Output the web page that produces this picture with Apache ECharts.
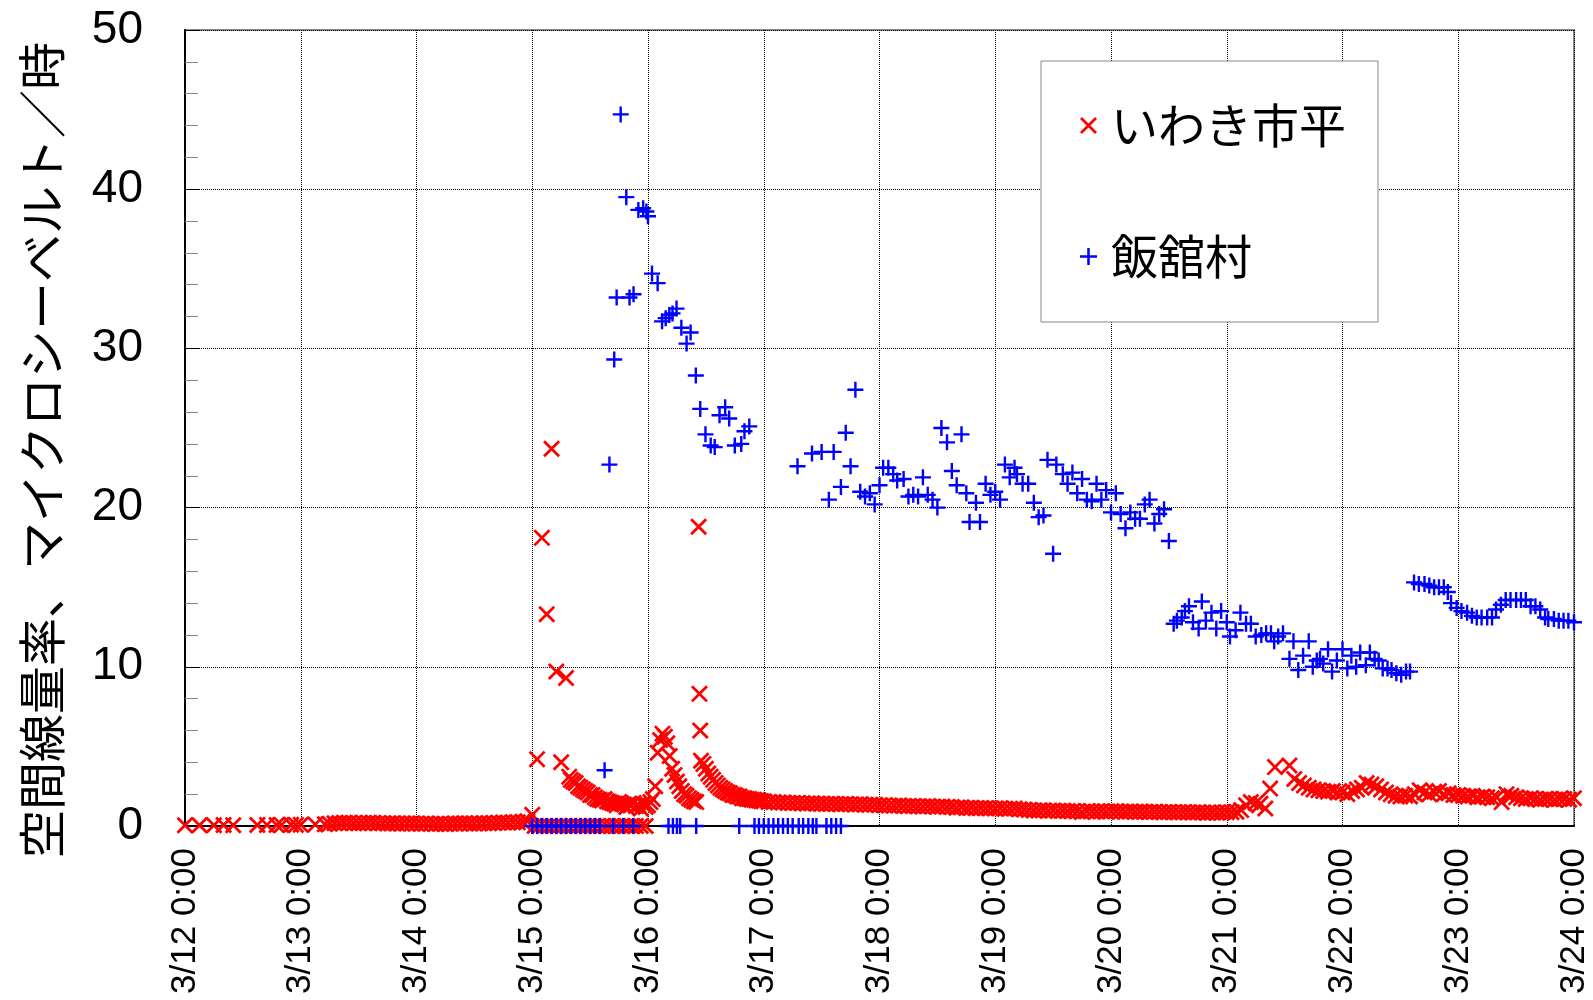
<!DOCTYPE html>
<html>
<head>
<meta charset="utf-8">
<script src="https://cdn.jsdelivr.net/npm/echarts@6/dist/echarts.min.js"></script>
<style>
html, body { margin: 0; padding: 0; background: #fff; }
#chart { width: 1593px; height: 1000px; }
</style>
</head>
<body>
<div id="chart"></div>
<script>
// Air dose rate (µSv/h), 2011-03-12 0:00 to 2011-03-24 0:00
const seriesNames = ['いわき市平', '飯舘村'];
const yTitle = '空間線量率、マイクロシーベルト／時';
const dayLabels = ['3/12 0:00', '3/13 0:00', '3/14 0:00', '3/15 0:00', '3/16 0:00', '3/17 0:00',
  '3/18 0:00', '3/19 0:00', '3/20 0:00', '3/21 0:00', '3/22 0:00', '3/23 0:00', '3/24 0:00'];

// いわき市平: hourly readings per day (index = hour), null = no reading
const iwaki_0312 = [0.05, null, null, 0.05, null, null, 0.05, null, 0.06, null, 0.05, null, null, null, null, 0.06, null, 0.07, null, 0.06, 0.07, null, 0.08, 0.07];
const iwaki_0313 = [0.08, null, null, 0.10, null, 0.11, 0.14, 0.17, 0.19, 0.21, 0.20, 0.18, 0.17, 0.19, 0.21, 0.20, 0.18, 0.17, 0.16, 0.17, 0.16, 0.15, 0.16, 0.15];
const iwaki_0314 = [0.15, 0.14, 0.15, 0.14, 0.13, 0.14, 0.13, 0.14, 0.15, 0.16, 0.17, 0.16, 0.15, 0.16, 0.17, 0.18, 0.19, 0.21, 0.22, 0.21, 0.23, 0.24, 0.26, 0.30];
const iwaki_0315 = [0.7, 4.2, 18.1, 13.3, 23.7, 9.7, 4.0, 9.3, 2.9, 2.7, 2.4, 2.2, 1.95, 1.8, 1.65, 1.7, 1.5, 1.4, 1.5, 1.35, 1.4, 1.45, 1.3, 1.4];
const iwaki_0316 = [1.3, 1.7, 4.6, 5.8, 5.2, 3.6, 2.8, 2.2, 1.9, 1.65, 1.5, 4.1, 3.6, 3.1, 2.7, 2.4, 2.2, 2.05, 1.95, 1.85, 1.75, 1.7, 1.65, 1.6];
const iwaki_0317 = [1.55, 1.5, 1.5, 1.48, 1.47, 1.45, 1.44, 1.45, 1.43, 1.42, 1.43, 1.4, 1.4, 1.38, 1.4, 1.38, 1.37, 1.38, 1.36, 1.35, 1.36, 1.34, 1.33, 1.34];
const iwaki_0318 = [1.3, 1.31, 1.28, 1.27, 1.28, 1.26, 1.25, 1.26, 1.24, 1.23, 1.24, 1.22, 1.21, 1.22, 1.2, 1.19, 1.15, 1.17, 1.13, 1.15, 1.12, 1.13, 1.11, 1.12];
const iwaki_0319 = [1.1, 1.12, 1.09, 1.08, 1.1, 1.05, 1.03, 1.0, 0.98, 0.97, 0.99, 0.96, 0.97, 0.95, 0.96, 0.94, 0.95, 0.93, 0.88, 0.92, 0.93, 0.91, 0.92, 0.9];
const iwaki_0320 = [0.92, 0.93, 0.91, 0.9, 0.91, 0.89, 0.9, 0.89, 0.88, 0.89, 0.88, 0.87, 0.88, 0.87, 0.86, 0.87, 0.86, 0.85, 0.86, 0.85, 0.84, 0.85, 0.84, 0.85];
const iwaki_0321 = [0.86, 0.87, 0.9, 1.0, 1.3, 1.5, 1.45, 1.4, 1.1, 2.35, 3.7, null, null, 3.8, 2.95, 2.7, 2.55, 2.4, 2.3, 2.25, 2.2, 2.15, 2.2, 2.1];
const iwaki_0322 = [2.1, 2.0, 2.2, 2.3, 2.4, 2.7, 2.6, 2.5, 2.3, 2.1, 2.0, 1.9, 1.85, 1.9, 1.85, 2.0, 2.25, 2.1, 2.0, 2.15, 2.2, 2.0, 2.05, 1.95];
const iwaki_0323 = [1.95, 1.9, 1.85, 1.9, 1.8, 1.85, 1.8, 1.75, 1.8, 1.5, 2.0, 1.9, 1.8, 1.75, 1.7, 1.75, 1.7, 1.65, 1.7, 1.7, 1.65, 1.7, 1.7, 1.65];
const iwaki_0324 = [1.75];
const iwakiDays = [iwaki_0312, iwaki_0313, iwaki_0314, iwaki_0315, iwaki_0316, iwaki_0317,
  iwaki_0318, iwaki_0319, iwaki_0320, iwaki_0321, iwaki_0322, iwaki_0323, iwaki_0324];

// いわき市平: readings between the hours (15th-16th)
const iwakiExtra = [
  ['3/15 0:30', 0], ['3/15 1:30', 0], ['3/15 2:30', 0], ['3/15 3:30', 0], ['3/15 4:30', 0], ['3/15 5:30', 0],
  ['3/15 6:30', 0], ['3/15 7:30', 0], ['3/15 8:30', 0], ['3/15 9:30', 0], ['3/15 10:30', 0], ['3/15 11:30', 0],
  ['3/15 12:30', 0], ['3/15 13:30', 0], ['3/15 14:30', 0], ['3/15 15:30', 0], ['3/15 16:30', 0], ['3/15 17:30', 0],
  ['3/15 18:30', 0], ['3/15 19:30', 0], ['3/15 20:30', 0], ['3/15 21:30', 0], ['3/15 22:30', 0], ['3/15 23:30', 0],
  ['3/15 7:40', 3.1], ['3/15 8:30', 2.8], ['3/15 9:30', 2.5], ['3/15 10:30', 2.3], ['3/15 11:30', 2.1],
  ['3/15 12:30', 1.95], ['3/15 13:30', 1.7], ['3/15 14:30', 1.6], ['3/15 15:30', 1.55], ['3/15 16:30', 1.45],
  ['3/15 17:30', 1.3], ['3/15 18:30', 1.4], ['3/15 19:30', 1.2], ['3/15 20:30', 1.3], ['3/15 21:30', 1.25],
  ['3/15 22:30', 1.1], ['3/15 23:30', 1.2],
  ['3/16 0:30', 1.5], ['3/16 1:30', 2.5], ['3/16 2:30', 5.4], ['3/16 3:30', 5.6], ['3/16 4:30', 4.4],
  ['3/16 5:30', 3.2], ['3/16 6:30', 2.5], ['3/16 7:30', 2.0], ['3/16 8:30', 1.75], ['3/16 9:30', 1.55],
  ['3/16 10:30', 18.8], ['3/16 10:40', 8.3], ['3/16 10:50', 6.0], ['3/16 11:30', 3.9], ['3/16 12:30', 3.3],
  ['3/16 13:30', 2.9], ['3/16 14:30', 2.55], ['3/16 15:30', 2.3], ['3/16 16:30', 2.1], ['3/16 17:30', 1.95],
  ['3/16 18:30', 1.85], ['3/16 19:30', 1.75], ['3/16 20:30', 1.7], ['3/16 21:30', 1.65], ['3/16 22:30', 1.6],
  ['3/16 23:30', 1.55]
];

// 飯舘村: timed readings
const iitateReadings = [
  ['3/15 0:00', 0], ['3/15 1:00', 0], ['3/15 2:00', 0], ['3/15 3:00', 0], ['3/15 4:00', 0], ['3/15 5:00', 0],
  ['3/15 6:00', 0], ['3/15 7:00', 0], ['3/15 8:00', 0], ['3/15 9:00', 0], ['3/15 10:00', 0], ['3/15 11:00', 0],
  ['3/15 12:00', 0], ['3/15 13:00', 0], ['3/15 14:00', 0], ['3/15 16:45', 0], ['3/15 18:50', 0], ['3/15 20:55', 0],
  ['3/15 15:00', 3.5], ['3/15 16:00', 22.7], ['3/15 17:00', 29.3], ['3/15 17:30', 33.2], ['3/15 18:20', 44.7],
  ['3/15 19:30', 39.5], ['3/15 20:10', 33.2], ['3/15 21:00', 33.4], ['3/15 22:00', 38.7], ['3/15 23:00', 38.8],
  ['3/15 23:40', 38.6], ['3/16 0:00', 38.3],
  ['3/16 0:50', 34.7], ['3/16 2:00', 34.1], ['3/16 2:55', 31.7], ['3/16 3:40', 31.9], ['3/16 4:25', 32.1],
  ['3/16 5:05', 32.2], ['3/16 5:55', 32.5], ['3/16 6:55', 31.3], ['3/16 8:00', 30.3], ['3/16 8:50', 31.0],
  ['3/16 9:55', 28.3], ['3/16 10:50', 26.2], ['3/16 11:55', 24.6], ['3/16 13:00', 23.9], ['3/16 13:50', 23.8],
  ['3/16 14:50', 25.8], ['3/16 16:00', 26.3], ['3/16 16:50', 25.6], ['3/16 18:00', 23.9], ['3/16 19:20', 24.0],
  ['3/16 20:00', 24.8], ['3/16 21:00', 25.1],
  ['3/16 4:15', 0], ['3/16 5:10', 0], ['3/16 6:00', 0], ['3/16 6:40', 0], ['3/16 10:00', 0], ['3/16 18:55', 0],
  ['3/16 22:05', 0], ['3/16 23:00', 0], ['3/17 0:00', 0], ['3/17 1:00', 0], ['3/17 2:00', 0], ['3/17 3:00', 0],
  ['3/17 4:00', 0], ['3/17 5:00', 0], ['3/17 6:00', 0], ['3/17 7:15', 0], ['3/17 8:10', 0], ['3/17 9:15', 0],
  ['3/17 10:10', 0], ['3/17 10:55', 0], ['3/17 13:00', 0], ['3/17 14:00', 0], ['3/17 15:00', 0], ['3/17 16:00', 0],
  ['3/17 7:00', 22.6], ['3/17 10:00', 23.4], ['3/17 12:00', 23.5], ['3/17 13:30', 20.5], ['3/17 14:30', 23.5],
  ['3/17 16:00', 21.3], ['3/17 17:00', 24.7], ['3/17 18:00', 22.6], ['3/17 19:00', 27.4], ['3/17 20:00', 21.0],
  ['3/17 21:00', 20.7], ['3/17 22:00', 20.9], ['3/17 23:00', 20.2],
  ['3/18 0:00', 21.4], ['3/18 0:45', 22.5], ['3/18 1:50', 22.5], ['3/18 2:50', 22.1], ['3/18 3:40', 21.7],
  ['3/18 5:00', 21.8], ['3/18 6:00', 20.7], ['3/18 7:00', 20.8], ['3/18 8:00', 20.7], ['3/18 9:00', 21.9],
  ['3/18 10:00', 20.8], ['3/18 11:00', 20.5], ['3/18 12:00', 20.0], ['3/18 12:50', 25.0], ['3/18 14:00', 24.1],
  ['3/18 15:00', 22.3], ['3/18 16:00', 21.4], ['3/18 17:00', 24.6], ['3/18 18:00', 20.9], ['3/18 18:40', 19.1],
  ['3/18 20:00', 20.3], ['3/18 20:50', 19.1], ['3/18 22:00', 21.5], ['3/18 23:00', 20.8],
  ['3/19 0:00', 21.0], ['3/19 1:00', 20.5], ['3/19 2:00', 22.7], ['3/19 3:00', 21.9], ['3/19 4:00', 22.5],
  ['3/19 4:30', 22.1], ['3/19 5:40', 21.5], ['3/19 6:50', 21.5], ['3/19 8:00', 20.3], ['3/19 9:00', 19.4],
  ['3/19 10:00', 19.5], ['3/19 10:50', 23.0], ['3/19 12:00', 17.1], ['3/19 12:40', 22.7], ['3/19 14:00', 22.1],
  ['3/19 15:00', 21.5], ['3/19 16:00', 22.2], ['3/19 17:00', 20.9], ['3/19 18:00', 21.8], ['3/19 19:00', 20.5],
  ['3/19 20:00', 20.4], ['3/19 21:00', 21.5], ['3/19 22:00', 20.5], ['3/19 23:00', 21.1],
  ['3/20 0:00', 19.7], ['3/20 1:00', 20.9], ['3/20 2:00', 19.6], ['3/20 3:00', 18.7], ['3/20 4:00', 19.7],
  ['3/20 5:00', 19.3], ['3/20 6:00', 19.3], ['3/20 7:00', 20.2], ['3/20 8:00', 20.5], ['3/20 9:00', 19.0],
  ['3/20 10:00', 19.6], ['3/20 11:00', 19.9], ['3/20 12:00', 17.9], ['3/20 13:00', 12.7], ['3/20 13:40', 12.9],
  ['3/20 14:40', 13.1], ['3/20 15:20', 13.5], ['3/20 16:10', 13.8], ['3/20 17:00', 12.8], ['3/20 18:10', 12.4],
  ['3/20 18:50', 14.1], ['3/20 19:40', 12.9], ['3/20 20:50', 13.4], ['3/20 21:50', 12.4], ['3/20 22:50', 13.5],
  ['3/21 0:00', 12.8], ['3/21 0:40', 11.9], ['3/21 1:50', 12.3], ['3/21 2:50', 13.4], ['3/21 4:00', 12.7],
  ['3/21 5:00', 12.7], ['3/21 6:00', 11.9], ['3/21 7:10', 12.0], ['3/21 8:10', 12.1], ['3/21 9:10', 12.1],
  ['3/21 9:50', 11.6], ['3/21 10:40', 11.9], ['3/21 11:40', 12.1], ['3/21 13:00', 10.5], ['3/21 13:50', 11.6],
  ['3/21 14:50', 9.8], ['3/21 15:50', 10.7], ['3/21 17:00', 11.6], ['3/21 17:50', 10.0], ['3/21 18:40', 10.4],
  ['3/21 19:20', 10.5], ['3/21 20:00', 10.2], ['3/21 21:00', 11.1], ['3/21 21:50', 9.7], ['3/21 22:50', 10.4],
  ['3/22 0:00', 11.1], ['3/22 1:00', 9.9], ['3/22 1:50', 10.7], ['3/22 2:50', 10.0], ['3/22 3:40', 10.9],
  ['3/22 4:50', 10.1], ['3/22 5:40', 10.9], ['3/22 6:40', 10.5], ['3/22 7:30', 10.4], ['3/22 8:20', 9.9],
  ['3/22 9:20', 9.9], ['3/22 10:10', 9.8], ['3/22 11:10', 9.6], ['3/22 12:10', 9.5], ['3/22 13:10', 9.7],
  ['3/22 14:00', 9.7], ['3/22 14:50', 15.3], ['3/22 15:50', 15.2], ['3/22 17:00', 15.2], ['3/22 18:00', 15.1],
  ['3/22 19:00', 15.0], ['3/22 20:00', 15.0], ['3/22 21:00', 15.0], ['3/22 21:50', 14.7], ['3/22 22:30', 14.0],
  ['3/22 23:40', 13.7], ['3/23 0:40', 13.5], ['3/23 1:50', 13.4], ['3/23 2:50', 13.2], ['3/23 3:50', 13.1],
  ['3/23 4:50', 13.1], ['3/23 6:00', 13.1], ['3/23 7:00', 13.1], ['3/23 7:50', 13.6], ['3/23 8:50', 13.9],
  ['3/23 9:50', 14.2], ['3/23 10:50', 14.2], ['3/23 12:00', 14.2], ['3/23 13:00', 14.2], ['3/23 14:00', 14.2],
  ['3/23 15:00', 13.8], ['3/23 16:00', 13.8], ['3/23 17:00', 13.6], ['3/23 18:00', 13.1], ['3/23 18:40', 13.0],
  ['3/23 19:50', 13.0], ['3/23 20:50', 12.9], ['3/23 21:50', 12.9], ['3/23 22:50', 12.9], ['3/24 0:00', 12.8]
];

// "M/D H:MM" -> hours elapsed since 3/12 0:00
function hoursOf(stamp) {
  const [md, hm] = stamp.split(' ');
  const day = Number(md.split('/')[1]);
  const [h, m] = hm.split(':').map(Number);
  return (day - 12) * 24 + h + m / 60;
}

const iwakiPoints = [];
iwakiDays.forEach((vals, d) => {
  vals.forEach((v, h) => { if (v !== null) iwakiPoints.push([d * 24 + h, v]); });
});
iwakiExtra.forEach(([t, v]) => iwakiPoints.push([hoursOf(t), v]));
const iitatePoints = iitateReadings.map(([t, v]) => [hoursOf(t), v]);

// marker shapes: diagonal cross and upright cross
const crossX = 'path://M0,2.3L2.3,0L20,17.7L17.7,20Z M20,2.3L2.3,20L0,17.7L17.7,0Z';
const crossPlus = 'path://M0,8.5H20V11.5H0Z M8.5,0H11.5V20H8.5Z';

const chart = echarts.init(document.getElementById('chart'), null, { renderer: 'canvas' });
chart.setOption({
  animation: false,
  backgroundColor: '#fff',
  grid: {
    left: 185, right: 19, top: 30, bottom: 174,
    show: true, borderColor: '#888', borderWidth: 2, backgroundColor: 'transparent'
  },
  xAxis: {
    type: 'value', min: 0, max: 288, interval: 24,
    axisLine: { show: true, onZero: false, lineStyle: { color: '#000', width: 2 } },
    axisTick: { show: false },
    axisLabel: {
      rotate: 90, margin: 22, color: '#000', fontSize: 35, fontFamily: 'Liberation Sans',
      formatter: v => dayLabels[Math.round(v / 24)]
    },
    splitLine: { show: true, lineStyle: { color: '#000', width: 1, type: [1, 1] } }
  },
  yAxis: {
    type: 'value', min: 0, max: 50, interval: 10,
    axisLine: { show: true, lineStyle: { color: '#000', width: 2 } },
    axisTick: { show: true, inside: true, length: 14, lineStyle: { color: '#000', width: 1 } },
    minorTick: { show: true, splitNumber: 5, length: 13, lineStyle: { color: '#888', width: 1 } },
    axisLabel: { margin: 42, color: '#000', fontSize: 46, fontFamily: 'Liberation Sans' },
    splitLine: { show: true, lineStyle: { color: '#000', width: 1, type: [1, 1] } }
  },
  legend: {
    orient: 'vertical', left: 1041, top: 61,
    padding: [41, 32, 42, 39],
    backgroundColor: '#fff', borderColor: '#888', borderWidth: 1,
    itemWidth: 17, itemHeight: 17, itemGap: 84,
    textStyle: { fontFamily: 'Noto Sans CJK JP', fontSize: 47, lineHeight: 47, color: '#000', padding: [0, 0, 0, 9] },
    data: seriesNames
  },
  graphic: [{
    type: 'text', x: 42, y: 450, rotation: Math.PI / 2,
    style: {
      text: yTitle, fill: '#000', font: '48px "Noto Sans CJK JP"',
      align: 'center', verticalAlign: 'middle'
    }
  }],
  series: [
    {
      name: seriesNames[0], type: 'scatter', data: iwakiPoints,
      symbol: crossX, symbolSize: 17, itemStyle: { color: '#ff0000', opacity: 1 }
    },
    {
      name: seriesNames[1], type: 'scatter', data: iitatePoints,
      symbol: crossPlus, symbolSize: 16, itemStyle: { color: '#0000ff', opacity: 1 }
    }
  ]
});
</script>
</body>
</html>
